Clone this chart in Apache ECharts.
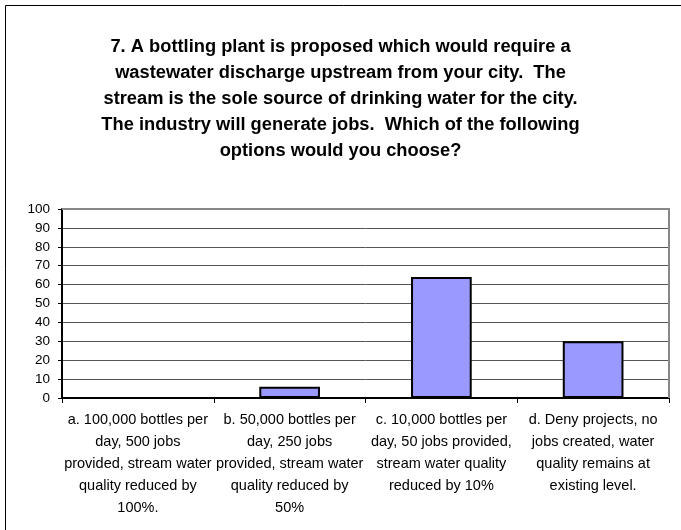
<!DOCTYPE html>
<html><head><meta charset="utf-8">
<script src="https://cdn.jsdelivr.net/npm/echarts@6/dist/echarts.min.js"></script>
<style>html,body{margin:0;padding:0;background:#fff}#c{width:681px;height:530px}</style>
</head><body><div id="c"></div>
<script>
var titleText = "7. A bottling plant is proposed which would require a\nwastewater discharge upstream from your city.  The\nstream is the sole source of drinking water for the city.\nThe industry will generate jobs.  Which of the following\noptions would you choose?";
var categories = [
  "a. 100,000 bottles per\nday, 500 jobs\nprovided, stream water\nquality reduced by\n100%.",
  "b. 50,000 bottles per\nday, 250 jobs\nprovided, stream water\nquality reduced by\n50%",
  "c. 10,000 bottles per\nday, 50 jobs provided,\nstream water quality\nreduced by 10%",
  "d. Deny projects, no\njobs created, water\nquality remains at\nexisting level."
];
var values = [0, 6, 64, 30];
var yMin = 0, yMax = 100, yInterval = 10;

var chart = echarts.init(document.getElementById('c'), null, {renderer: 'canvas'});
chart.setOption({
  backgroundColor: '#fff',
  animation: false,
  graphic: [
    {type: 'rect', shape: {x: 5.5, y: 5.5, width: 700, height: 600}, style: {fill: 'none', stroke: '#000', lineWidth: 1}, z: -1},
    {type: 'polyline', shape: {points: [[62, 209], [669, 209], [669, 398]]}, style: {stroke: '#888', lineWidth: 2, fill: 'none'}, z: 5}
  ],
  title: {
    text: titleText,
    left: 'center',
    top: 29,
    textStyle: {fontFamily: 'Liberation Sans, Arial, sans-serif', fontWeight: 'bold', fontSize: 18.3, lineHeight: 26, color: '#000'}
  },
  grid: {left: 62, right: 12, top: 209, bottom: 132, containLabel: false},
  xAxis: {
    type: 'category',
    data: categories,
    axisLine: {lineStyle: {color: '#000', width: 2}},
    axisTick: {show: true, length: 5, lineStyle: {color: '#000', width: 1}},
    axisLabel: {interval: 0, margin: 11, fontFamily: 'Liberation Sans, Arial, sans-serif', fontSize: 14.5, lineHeight: 22, color: '#000', align: 'center'}
  },
  yAxis: {
    type: 'value',
    min: yMin, max: yMax, interval: yInterval,
    axisLine: {show: true, lineStyle: {color: '#000', width: 2}},
    axisTick: {show: true, length: 4, lineStyle: {color: '#000'}},
    axisLabel: {margin: 12, fontFamily: 'Liberation Sans, Arial, sans-serif', fontSize: 13.5, color: '#000'},
    splitLine: {show: true, lineStyle: {color: '#555', width: 1}}
  },
  series: [{
    type: 'bar',
    data: values,
    barWidth: '40%',
    itemStyle: {color: '#9999FF', borderColor: '#000', borderWidth: 2}
  }]
});
</script></body></html>
